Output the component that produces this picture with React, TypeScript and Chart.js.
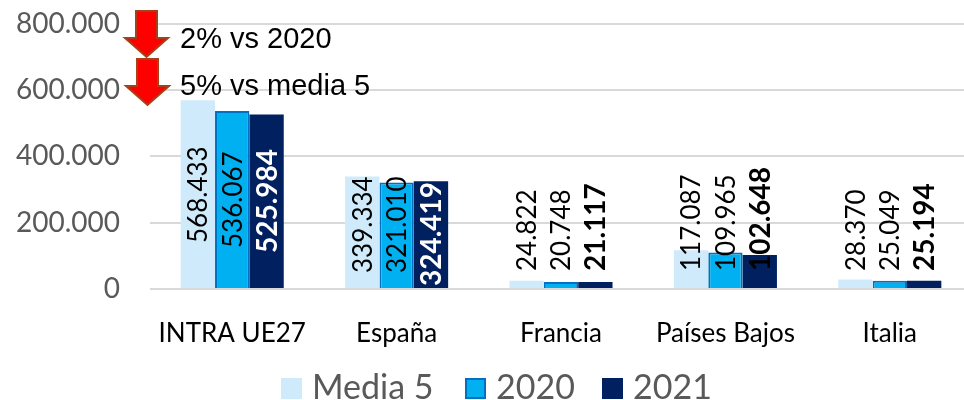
import React, { useEffect, useRef } from "react";
import { Chart, registerables } from "chart.js";

Chart.register(...registerables);

const categories = ["INTRA UE27", "España", "Francia", "Países Bajos", "Italia"];
const media5 = [568433, 339334, 24822, 117087, 28370];
const y2020 = [536067, 321010, 20748, 109965, 25049];
const y2021 = [525984, 324419, 21117, 102648, 25194];
const seriesNames = ["Media 5", "2020", "2021"];
const notes = ["2% vs 2020", "5% vs media 5"];

const labelLift = [
  [46, 16, 18, 18, 18],
  [41, 16, 18, 18, 18],
  [36, 3, 18, 18, 18],
];
const labelColor2021 = ["#ffffff", "#ffffff", "#000000", "#000000", "#000000"];

const fmt = (v: number) => String(v).replace(/\B(?=(\d{3})+(?!\d))/g, ".");
const UI = "Lato";

function drawArrow(ctx: CanvasRenderingContext2D, cx: number, top: number) {
  ctx.beginPath();
  ctx.moveTo(cx - 10.5, top);
  ctx.lineTo(cx + 10.5, top);
  ctx.lineTo(cx + 10.5, top + 27);
  ctx.lineTo(cx + 21.5, top + 27);
  ctx.lineTo(cx, top + 46);
  ctx.lineTo(cx - 21.5, top + 27);
  ctx.lineTo(cx - 10.5, top + 27);
  ctx.closePath();
  ctx.fillStyle = "#ff0000";
  ctx.fill();
  ctx.strokeStyle = "#a5401a";
  ctx.lineWidth = 2;
  ctx.stroke();
}

const overlay = {
  id: "overlay",
  afterDatasetsDraw(chart: any) {
    const { ctx } = chart;
    const yScale = chart.scales.y;
    const base = yScale.getPixelForValue(0);
    ctx.save();
    // rotated value labels
    chart.data.datasets.forEach((ds: any, di: number) => {
      const meta = chart.getDatasetMeta(di);
      meta.data.forEach((bar: any, i: number) => {
        ctx.save();
        ctx.translate(bar.x + 1, base - labelLift[di][i]);
        ctx.rotate(-Math.PI / 2);
        ctx.textAlign = "left";
        ctx.textBaseline = "middle";
        ctx.font = `${di === 2 ? "bold 28px" : "26px"} ${UI}`;
        ctx.fillStyle = di === 2 ? labelColor2021[i] : "#000000";
        ctx.fillText(fmt(ds.data[i]), 0, 0);
        ctx.restore();
      });
    });
    // arrows and notes
    drawArrow(ctx, 146.5, 11);
    drawArrow(ctx, 147.5, 59);
    ctx.font = "29px 'Liberation Sans'";
    ctx.fillStyle = "#000000";
    ctx.textAlign = "left";
    ctx.textBaseline = "middle";
    ctx.fillText(notes[0], 180, 40);
    ctx.fillText(notes[1], 180, 87);
    // legend
    const boxX = [281, 465, 602];
    ctx.font = `34px ${UI}`;
    chart.data.datasets.forEach((ds: any, di: number) => {
      ctx.fillStyle = ds.backgroundColor;
      ctx.fillRect(boxX[di], 378, 21, 21);
      if (ds.borderWidth) {
        ctx.strokeStyle = ds.borderColor;
        ctx.lineWidth = 2;
        ctx.strokeRect(boxX[di] + 1, 379, 19, 19);
      }
      ctx.fillStyle = "#595959";
      ctx.fillText(ds.label, boxX[di] + 31, 388);
    });
    ctx.restore();
  },
};

export default function App() {
  const ref = useRef<HTMLCanvasElement>(null);
  useEffect(() => {
    const chart = new Chart(ref.current as HTMLCanvasElement, {
      type: "bar",
      data: {
        labels: categories,
        datasets: [
          { label: seriesNames[0], data: media5, backgroundColor: "#CFEBFB", borderWidth: 0 },
          { label: seriesNames[1], data: y2020, backgroundColor: "#00B0F0", borderColor: "#0070C0", borderWidth: 2 },
          { label: seriesNames[2], data: y2021, backgroundColor: "#002060", borderWidth: 0 },
        ],
      },
      options: {
        responsive: false,
        animation: false,
        layout: { padding: { top: 0, right: 16, bottom: 0, left: 0 } },
        datasets: { bar: { categoryPercentage: 0.627, barPercentage: 1 } },
        plugins: { legend: { display: false }, tooltip: { enabled: false }, title: { display: false } },
        scales: {
          x: {
            grid: { display: false },
            border: { display: false },
            afterFit: (s: any) => { s.height = 111; },
            ticks: { color: "#000000", font: { family: UI, size: 26 }, padding: 21, maxRotation: 0, autoSkip: false },
          },
          y: {
            min: 0,
            max: 800000,
            afterFit: (s: any) => { s.width = 150; s.paddingTop = 23.5; s.paddingBottom = 0; },
            grid: { color: "#D9D9D9", lineWidth: 2, drawTicks: false },
            border: { display: false },
            ticks: {
              stepSize: 200000,
              color: "#595959",
              padding: 30,
              font: { family: UI, size: 28 },
              callback: (v: any) => fmt(Number(v)),
            },
          },
        },
      },
      plugins: [overlay],
    } as any);
    return () => chart.destroy();
  }, []);
  return (
    <div style={{ position: "absolute", left: 0, top: 0, width: 964, height: 400, overflow: "hidden", background: "#fff" }}>
      <canvas ref={ref} width={988} height={400} style={{ display: "block", width: 988, height: 400 }} />
    </div>
  );
}
